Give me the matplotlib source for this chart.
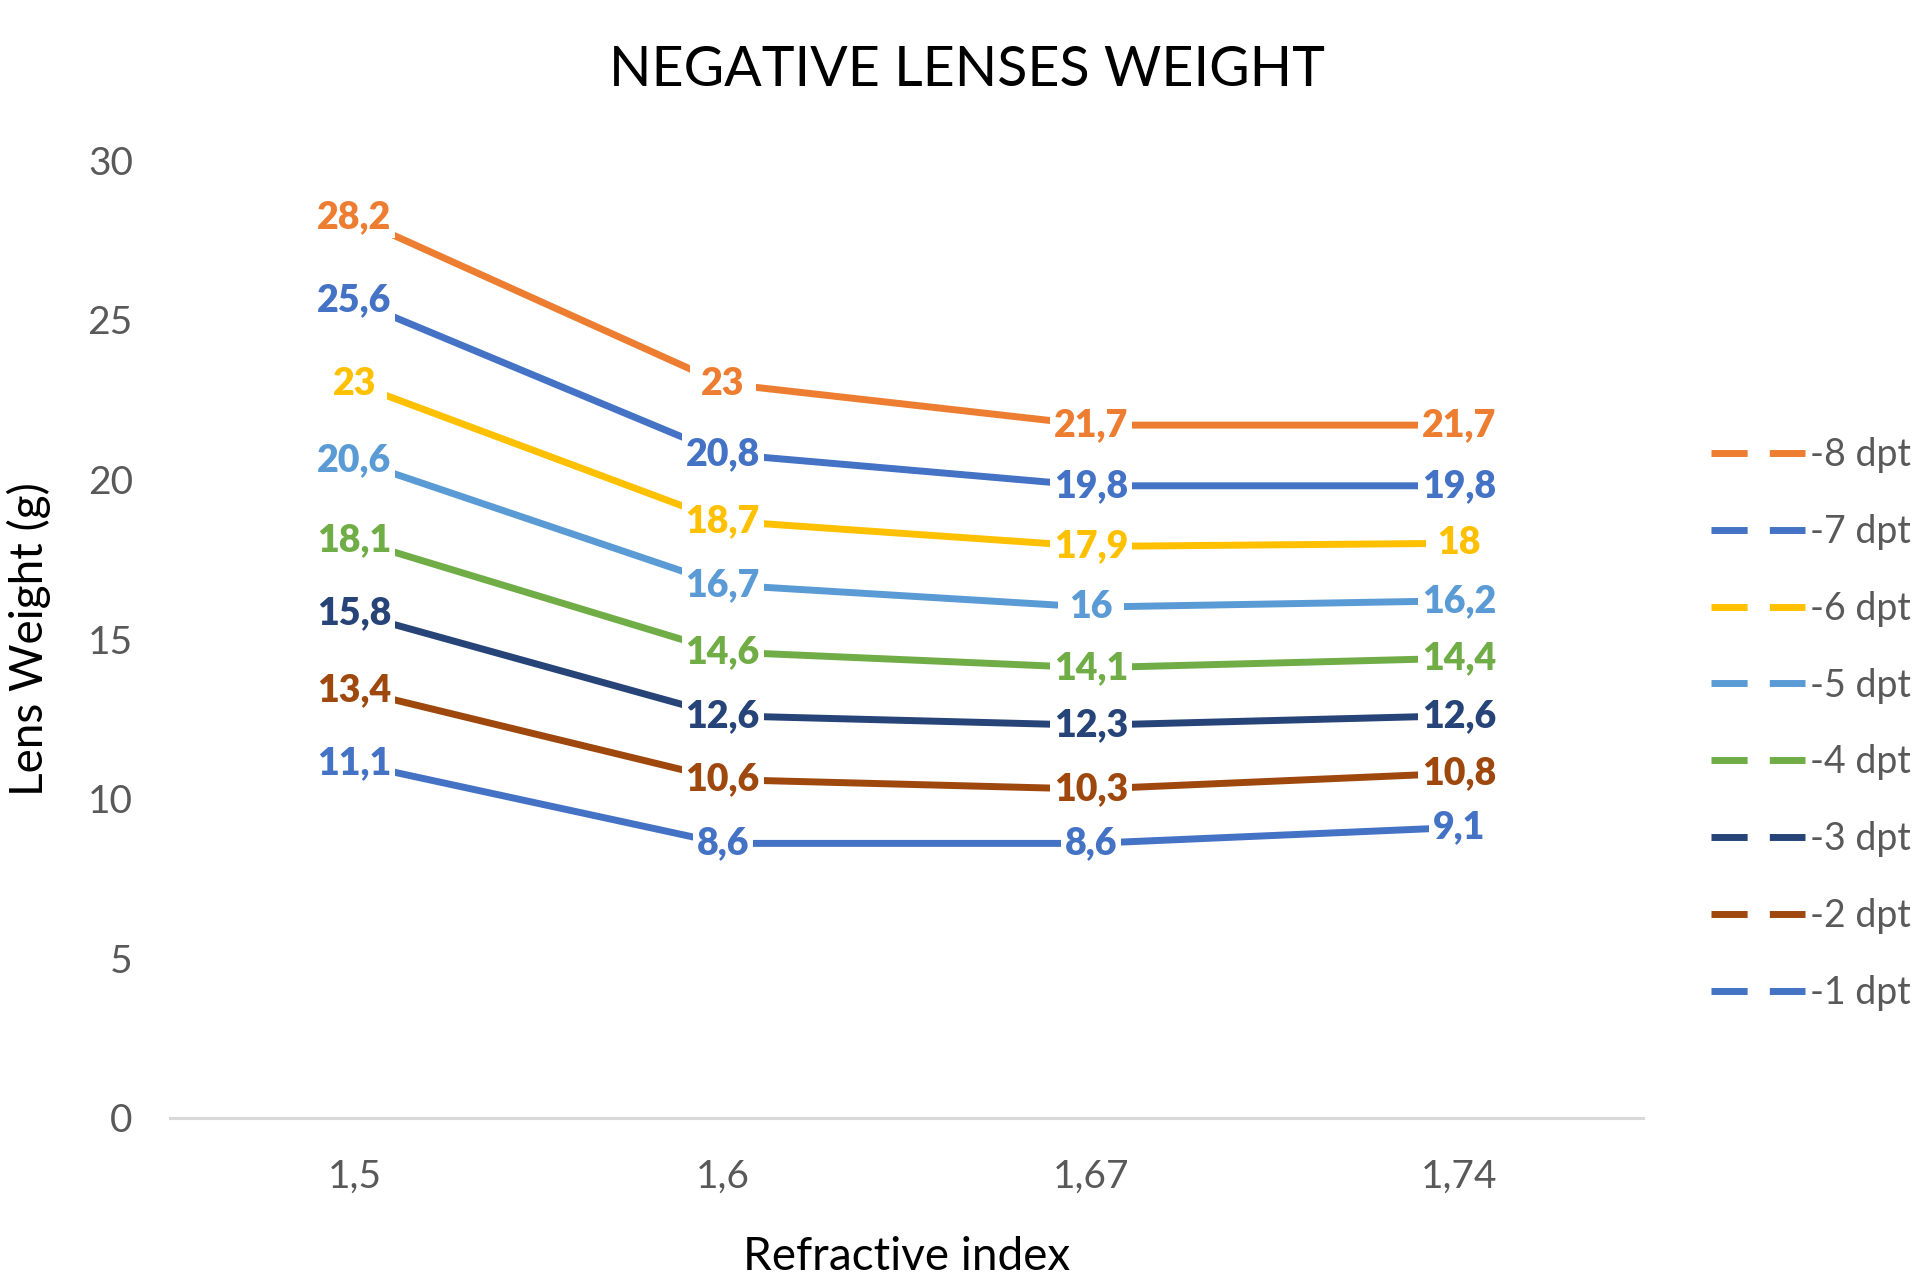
import numpy as np
import matplotlib.pyplot as plt

plt.rcParams['font.family'] = ['Lato', 'DejaVu Sans']

# refractive index categories
categories = ['1,5', '1,6', '1,67', '1,74']

# lens weight (g) per power
series_names = ['-8 dpt', '-7 dpt', '-6 dpt', '-5 dpt', '-4 dpt', '-3 dpt', '-2 dpt', '-1 dpt']
dpt_8 = [28.2, 23, 21.7, 21.7]
dpt_7 = [25.6, 20.8, 19.8, 19.8]
dpt_6 = [23, 18.7, 17.9, 18]
dpt_5 = [20.6, 16.7, 16, 16.2]
dpt_4 = [18.1, 14.6, 14.1, 14.4]
dpt_3 = [15.8, 12.6, 12.3, 12.6]
dpt_2 = [13.4, 10.6, 10.3, 10.8]
dpt_1 = [11.1, 8.6, 8.6, 9.1]
series_values = [dpt_8, dpt_7, dpt_6, dpt_5, dpt_4, dpt_3, dpt_2, dpt_1]

colors = ['#ED7D31', '#4472C4', '#FFC000', '#5B9BD5', '#70AD47', '#264478', '#9E480E', '#4472C4']

fig = plt.figure(figsize=(19.33, 12.84), dpi=100)
ax = fig.add_axes([0.0881, 0.1293, 0.762, 0.746])

x = np.arange(len(categories))
handles = []
for name, vals, c in zip(series_names, series_values, colors):
    ax.plot(x, vals, color=c, lw=5, solid_capstyle='butt', zorder=2)
    for xi, v in zip(x, vals):
        lab = ('%g' % v).replace('.', ',')
        # white box hides the line behind the label (wider for short labels)
        pad = 0.1 if len(lab) > 2 else 0.3
        ax.text(xi, v, lab, ha='center', va='center', fontsize=27, fontweight='heavy',
                color=c, zorder=4,
                bbox=dict(boxstyle='square,pad=%s' % pad, fc='white', ec='none'))
    h, = ax.plot([], [], color=c, lw=5, linestyle=(0, (5.2, 3.2)))
    handles.append(h)

ax.set_xlim(-0.5, 3.5)
ax.set_ylim(0, 30)
ax.set_xticks(x)
ax.set_xticklabels(categories)
ax.set_yticks([0, 5, 10, 15, 20, 25, 30])
ax.tick_params(axis='both', length=0, labelsize=28, labelcolor='#595959')
ax.tick_params(axis='y', pad=27)
ax.tick_params(axis='x', pad=29)
for s in ['top', 'right', 'left']:
    ax.spines[s].set_visible(False)
ax.spines['bottom'].set_color('#D9D9D9')
ax.spines['bottom'].set_linewidth(2.2)

ax.set_xlabel('Refractive index', fontsize=33, labelpad=30)
ax.set_ylabel('Lens Weight (g)', fontsize=33, labelpad=26)
fig.text(0.5, 1 - 70 / 1284, 'NEGATIVE LENSES WEIGHT', ha='center', va='center', fontsize=40)

fig.legend(handles, series_names, loc='center left', bbox_to_anchor=(1711 / 1933, 1 - 724 / 1284),
           frameon=False, fontsize=27, labelcolor='#595959', handlelength=2.5,
           handletextpad=0.15, labelspacing=1.09, borderpad=0, borderaxespad=0)

fig.savefig('out.png', dpi=100)
